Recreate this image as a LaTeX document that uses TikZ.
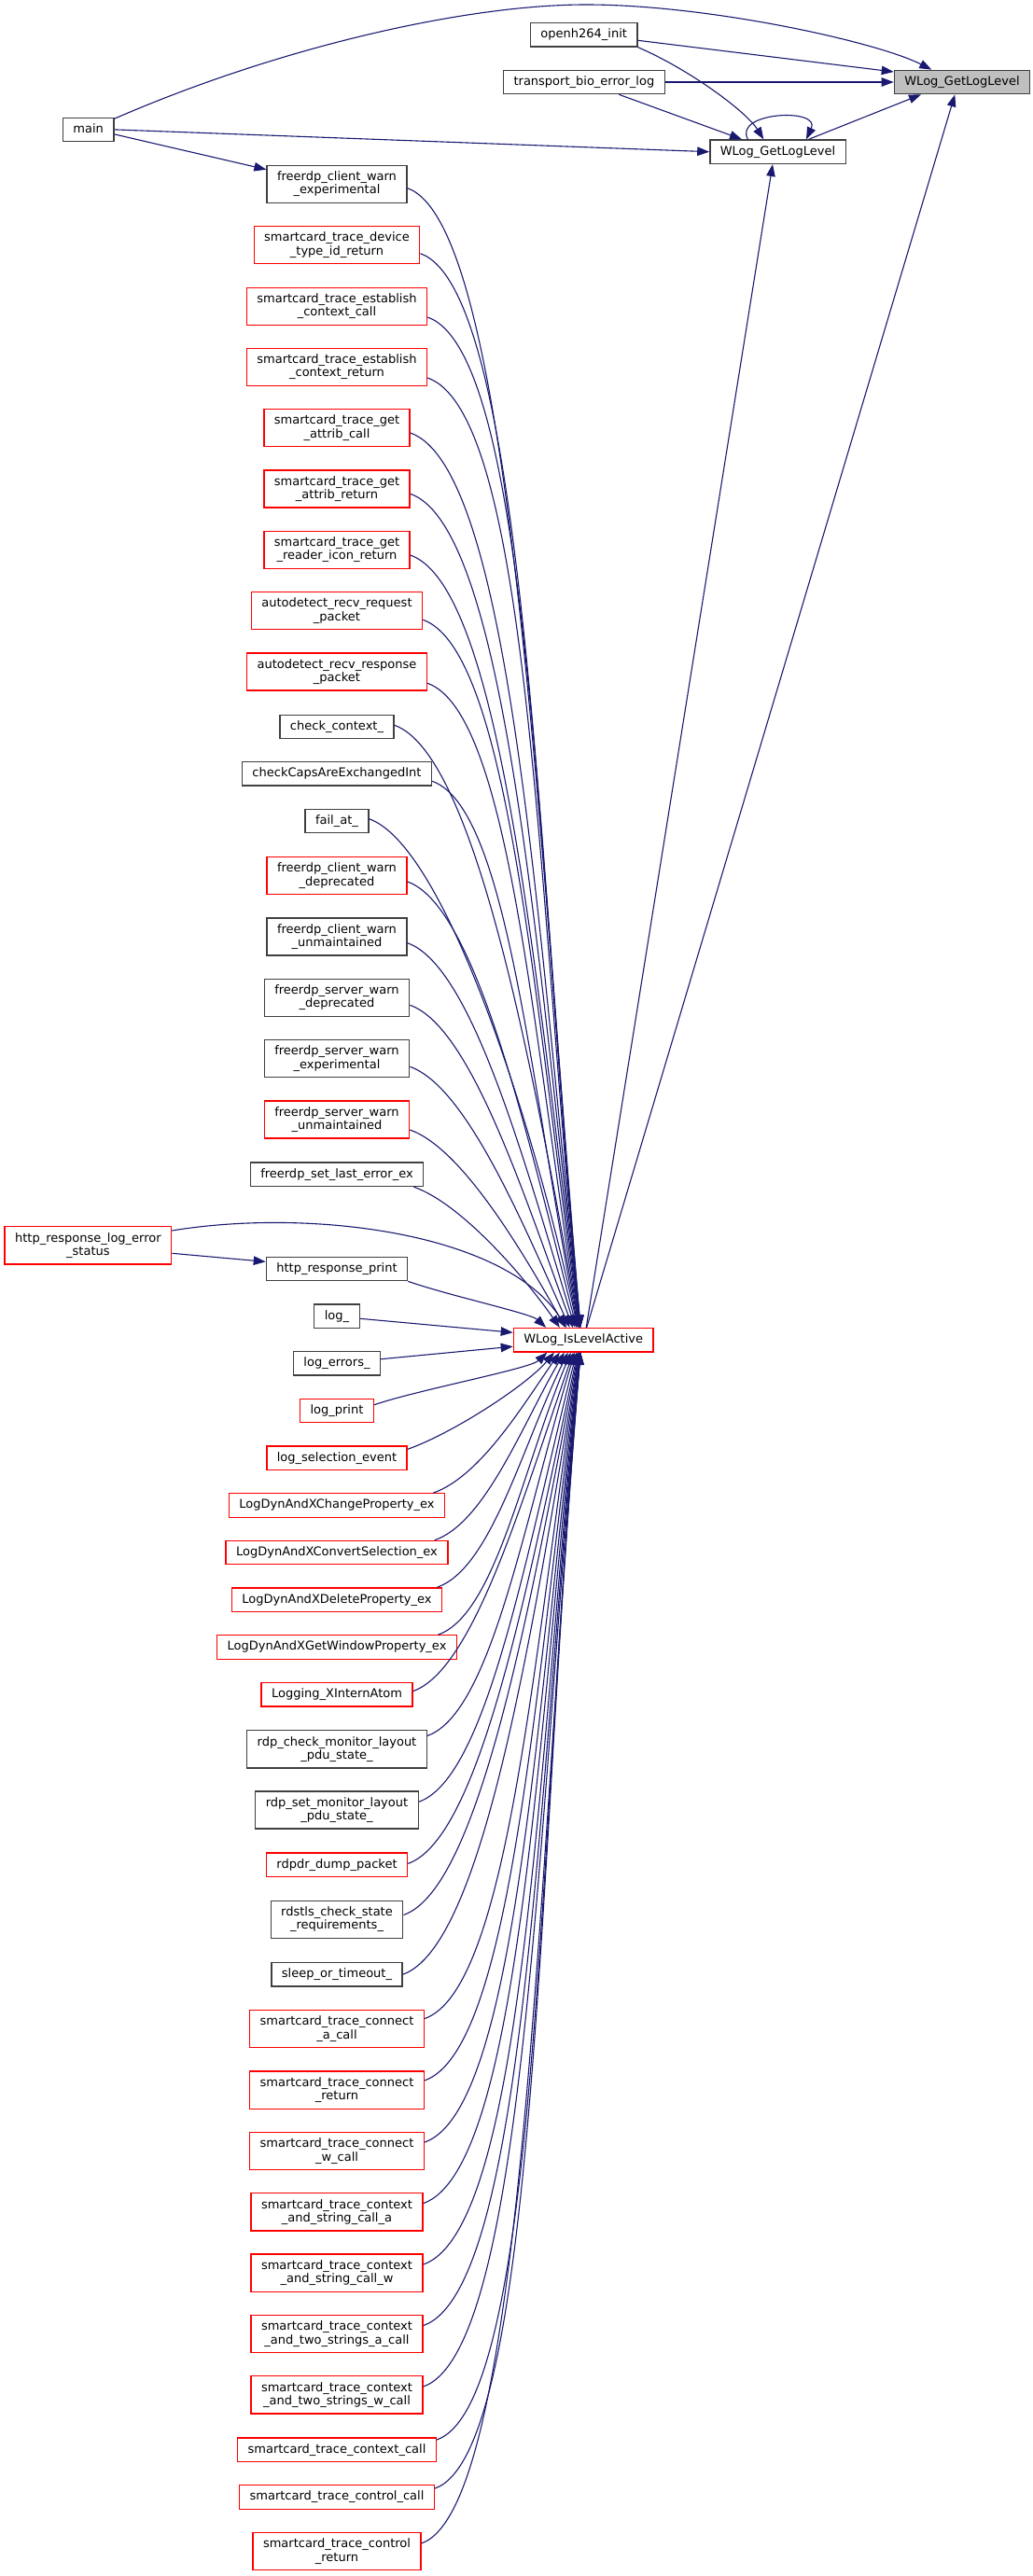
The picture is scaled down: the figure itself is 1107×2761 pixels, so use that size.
\documentclass[tikz,border=0pt]{standalone}
\usepackage{fontspec}
\setmainfont{DejaVu Sans}
\usetikzlibrary{arrows.meta,calc}
\definecolor{edgeblue}{RGB}{25,25,112}
\definecolor{boxgray}{RGB}{64,64,64}
\definecolor{rootfill}{RGB}{191,191,191}
\definecolor{trunc}{RGB}{255,0,0}
\tikzset{
  box/.style={draw=boxgray, line width=1.3pt, fill=white, inner xsep=11pt, inner ysep=0pt,
    font=\fontsize{13pt}{14.4pt}\selectfont},
  redbox/.style={box, draw=trunc},
  one/.style={minimum height=25.4pt, text height=9.9pt, text depth=3.1pt},
  two/.style={minimum height=40.2pt, align=center},
  edge/.style={draw=edgeblue, line width=1.1pt, -{Triangle[length=13pt,width=9.5pt]}},
}
\newcommand\fanUp[1]{%
  \draw[edge] let \p1=(#1), \p3=(act.north), \n1={\y1-\y3},
    \n5={3+37*exp(-(\n1-50)/200)}, \p2=({\x3-\n5},{\y3}),
    \n2={min(110,40+0.07*\n1)}, \n3={86-31*exp(-(\n1-150)/300)}, \n4={0.45*\n1},
    \n6={\n4*cos(\n3)}, \n7={\n4*sin(\n3)}
  in (\p1) .. controls ({\x1+\n2},{\y1-0.35*\n2}) and ({\x2-\n6},{\y2+\n7}) .. (\p2);}
\newcommand\fanDn[1]{%
  \draw[edge] let \p1=(#1), \p3=(act.south), \n1={\y3-\y1},
    \n5={3+37*exp(-(\n1-50)/200)}, \p2=({\x3-\n5},{\y3}),
    \n2={min(110,40+0.07*\n1)}, \n3={86-31*exp(-(\n1-150)/300)}, \n4={0.45*\n1},
    \n6={\n4*cos(\n3)}, \n7={\n4*sin(\n3)}
  in (\p1) .. controls ({\x1+\n2},{\y1+0.35*\n2}) and ({\x2-\n6},{\y2-\n7}) .. (\p2);}
\begin{document}
\begin{tikzpicture}[x=1pt,y=-1pt]
\useasboundingbox (0,0) rectangle (1107,2761);
% ---- top part
\node[box,one] (main) at (94.7,138.9) {main};
\node[box,one] (oinit) at (625.7,37.3) {openh264\_init};
\node[box,one] (tbio) at (625.9,88) {transport\_bio\_error\_log};
\node[box,one] (mid) at (833.5,162.7) {WLog\_GetLogLevel};
\node[box,one,fill=rootfill] (tgt) at (1031,88) {WLog\_GetLogLevel};
\node[redbox,one] (act) at (625.2,1436.2) {WLog\_IsLevelActive};
\node[redbox,two] (hresp) at (94.4,1334.8) {http\_response\_log\_error\\\_status};
% ---- column
\node[box,two] (c1) at (361,197.3) {freerdp\_client\_warn\\\_experimental};
\node[redbox,two] (c2) at (361,262.7) {smartcard\_trace\_device\\\_type\_id\_return};
\node[redbox,two] (c3) at (361,328.3) {smartcard\_trace\_establish\\\_context\_call};
\node[redbox,two] (c4) at (361,393.3) {smartcard\_trace\_establish\\\_context\_return};
\node[redbox,two] (c5) at (361,458.7) {smartcard\_trace\_get\\\_attrib\_call};
\node[redbox,two] (c6) at (361,524) {smartcard\_trace\_get\\\_attrib\_return};
\node[redbox,two] (c7) at (361,589.3) {smartcard\_trace\_get\\\_reader\_icon\_return};
\node[redbox,two] (c8) at (361,654.7) {autodetect\_recv\_request\\\_packet};
\node[redbox,two] (c9) at (361,720) {autodetect\_recv\_response\\\_packet};
\node[box,one] (c10) at (361,779) {check\_context\_};
\node[box,one] (c11) at (361,829.3) {checkCapsAreExchangedInt};
\node[box,one] (c12) at (361,880) {fail\_at\_};
\node[redbox,two] (c13) at (361,938.7) {freerdp\_client\_warn\\\_deprecated};
\node[box,two] (c14) at (361,1004) {freerdp\_client\_warn\\\_unmaintained};
\node[box,two] (c15) at (361,1069.3) {freerdp\_server\_warn\\\_deprecated};
\node[box,two] (c16) at (361,1134.7) {freerdp\_server\_warn\\\_experimental};
\node[redbox,two] (c17) at (361,1200) {freerdp\_server\_warn\\\_unmaintained};
\node[box,one] (c18) at (361,1258.8) {freerdp\_set\_last\_error\_ex};
\node[box,one] (c19) at (361,1360) {http\_response\_print};
\node[box,one] (c20) at (361,1410.7) {log\_};
\node[box,one] (c21) at (361,1461.3) {log\_errors\_};
\node[redbox,one] (c22) at (361,1512) {log\_print};
\node[redbox,one] (c23) at (361,1562.7) {log\_selection\_event};
\node[redbox,one] (c24) at (361,1613.5) {LogDynAndXChangeProperty\_ex};
\node[redbox,one] (c25) at (361,1664.1) {LogDynAndXConvertSelection\_ex};
\node[redbox,one] (c26) at (361,1714.6) {LogDynAndXDeleteProperty\_ex};
\node[redbox,one] (c27) at (361,1765.5) {LogDynAndXGetWindowProperty\_ex};
\node[redbox,one] (c28) at (361,1816.2) {Logging\_XInternAtom};
\node[box,two] (c29) at (361,1874.8) {rdp\_check\_monitor\_layout\\\_pdu\_state\_};
\node[box,two] (c30) at (361,1940) {rdp\_set\_monitor\_layout\\\_pdu\_state\_};
\node[redbox,one] (c31) at (361,1998.8) {rdpdr\_dump\_packet};
\node[box,two] (c32) at (361,2057.3) {rdstls\_check\_state\\\_requirements\_};
\node[box,one] (c33) at (361,2116.2) {sleep\_or\_timeout\_};
\node[redbox,two] (c34) at (361,2174.7) {smartcard\_trace\_connect\\\_a\_call};
\node[redbox,two] (c35) at (361,2240.2) {smartcard\_trace\_connect\\\_return};
\node[redbox,two] (c36) at (361,2305.5) {smartcard\_trace\_connect\\\_w\_call};
\node[redbox,two] (c37) at (361,2370.8) {smartcard\_trace\_context\\\_and\_string\_call\_a};
\node[redbox,two] (c38) at (361,2436.2) {smartcard\_trace\_context\\\_and\_string\_call\_w};
\node[redbox,two] (c39) at (361,2501.5) {smartcard\_trace\_context\\\_and\_two\_strings\_a\_call};
\node[redbox,two] (c40) at (361,2566.8) {smartcard\_trace\_context\\\_and\_two\_strings\_w\_call};
\node[redbox,one] (c41) at (361,2625.6) {smartcard\_trace\_context\_call};
\node[redbox,one] (c42) at (361,2676.5) {smartcard\_trace\_control\_call};
\node[redbox,two] (c43) at (361,2734.7) {smartcard\_trace\_control\\\_return};
% ---- top edges
\draw[edge] ([yshift=-1.7]main.north east) .. controls (300,50) and (500,5) .. (628,5)
  .. controls (760,5) and (940,45) .. ([xshift=-32.7]tgt.north);
\draw[edge] (main.east) -- (mid.west);
\draw[edge] ([yshift=-5]main.east) -- ([yshift=15.6]c1.west);
\draw[edge] ([yshift=-6]oinit.east) -- ([yshift=11]tgt.west);
\draw[edge] (oinit.south east) .. controls (740,75) and (800,120) .. ([xshift=-15.2]mid.north);
\draw[edge] (tbio.east) -- (tgt.west);
\draw[edge] ([xshift=37.5]tbio.south) -- ([xshift=-38.5]mid.north);
\draw[edge] ([xshift=-32]mid.north) .. controls (785,120) and (880,115) .. ([xshift=30.5]mid.north);
\draw[edge] ([xshift=33]mid.north) -- ([xshift=-44]tgt.south);
\draw[edge] ([xshift=3]act.north) -- ([xshift=-5.5]mid.south);
\draw[edge] ([xshift=3.5]act.north) -- ([xshift=-7.7]tgt.south);
% ---- http
\draw[edge] ([yshift=-8.5]hresp.east) -- ([yshift=7.7]c19.west);
\draw[edge] ([yshift=15.8]hresp.east) .. controls (330,1295) and (540,1320) .. ([xshift=-18]act.north);
% ---- fan above
\fanUp{[yshift=-4.4]c1.east}
\fanUp{[yshift=-9]c2.east}
\fanUp{[yshift=-11.7]c3.east}
\fanUp{[yshift=-11.7]c4.east}
\fanUp{[yshift=-5.3]c5.east}
\fanUp{[yshift=-5.3]c6.east}
\fanUp{[yshift=-5.7]c7.east}
\fanUp{[yshift=-9.6]c8.east}
\fanUp{[yshift=-12.3]c9.east}
\fanUp{[yshift=1.7]c10.east}
\fanUp{[yshift=-8]c11.east}
\fanUp{[yshift=2.3]c12.east}
\fanUp{[yshift=-6.3]c13.east}
\fanUp{[yshift=-6.7]c14.east}
\fanUp{[yshift=-8]c15.east}
\fanUp{[yshift=-8.6]c16.east}
\fanUp{[yshift=-11]c17.east}
\fanUp{[xshift=-11]c18.south east}
\fanUp{c19.south east}
% ---- straight
\draw[edge] ([yshift=-2.6]c20.east) -- ([yshift=8]act.west);
\draw[edge] ([yshift=4.6]c21.east) -- ([yshift=-7]act.west);
% ---- fan below
\fanDn{[yshift=6.3]c22.east}
\fanDn{[yshift=9.4]c23.east}
\fanDn{[xshift=-13]c24.north east}
\fanDn{[xshift=-14.7]c25.north east}
\fanDn{[xshift=-5.7]c26.north east}
\fanDn{[xshift=-20.7]c27.north east}
\fanDn{[yshift=3.6]c28.east}
\fanDn{[yshift=14.4]c29.east}
\fanDn{[yshift=8.8]c30.east}
\fanDn{[yshift=1.4]c31.east}
\fanDn{[yshift=4.8]c32.east}
\fanDn{c33.east}
\fanDn{[yshift=11.1]c34.east}
\fanDn{[yshift=10.3]c35.east}
\fanDn{[yshift=9.4]c36.east}
\fanDn{[yshift=9.2]c37.east}
\fanDn{[yshift=9.1]c38.east}
\fanDn{[yshift=8.9]c39.east}
\fanDn{[yshift=8.8]c40.east}
\fanDn{[yshift=10.6]c41.east}
\fanDn{[yshift=9.4]c42.east}
\fanDn{[yshift=8.7]c43.east}
\end{tikzpicture}
\end{document}
